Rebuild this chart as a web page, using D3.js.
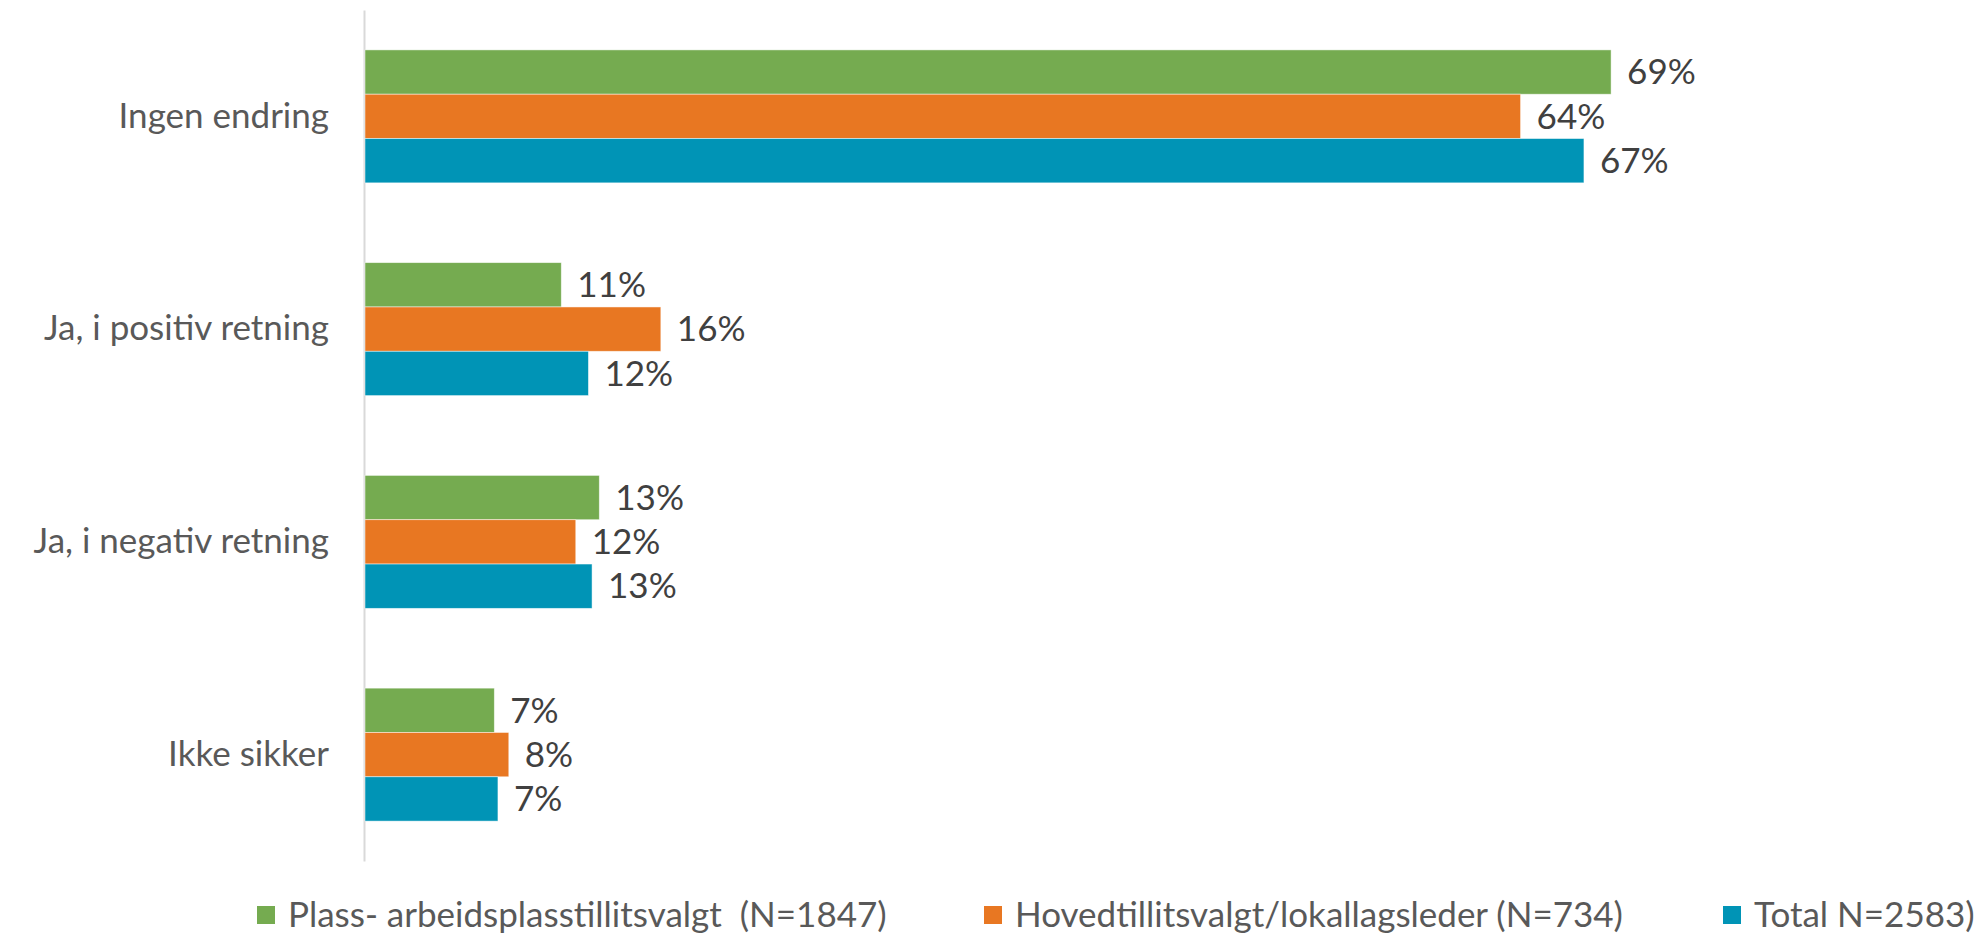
<!DOCTYPE html>
<html><head><meta charset="utf-8">
<script src="https://cdn.jsdelivr.net/npm/d3@7"></script>
<style>
html,body{margin:0;padding:0;background:#fff;}
svg text{font-family:Lato,"Noto Sans",sans-serif;}
</style></head>
<body>
<svg id="c" width="1974" height="937"></svg>
<script>
const categories = ["Ingen endring","Ja, i positiv retning","Ja, i negativ retning","Ikke sikker"];
const seriesNames = ["Plass- arbeidsplasstillitsvalgt  (N=1847)","Hovedtillitsvalgt/lokallagsleder (N=734)","Total N=2583)"];
const plassValues = [68.9, 10.9, 13.0, 7.2];
const hovedValues = [63.9, 16.4, 11.7, 8.0];
const totalValues = [67.4, 12.4, 12.6, 7.4];
const colors = ["#75AB50","#E87722","#0094B6"];

const seriesValues = [plassValues, hovedValues, totalValues];
const svg = d3.select("#c");
const fs = 35;

const x = d3.scaleLinear().domain([0, 80]).range([364, 364 + 80*18.1]);
const y0 = d3.scaleBand().domain(categories).range([10, 861]);
const y1 = d3.scaleBand().domain(d3.range(3)).range([0, y0.bandwidth()]).paddingOuter(0.9);

const axis = d3.axisLeft(y0).tickSize(0).tickSizeOuter(0).tickPadding(35);
const ag = svg.append("g").attr("transform", `translate(${x(0)},0)`).call(axis);
ag.select(".domain").attr("stroke", "#d9d9d9").attr("stroke-width", 2);
ag.selectAll(".tick text").attr("font-size", fs).attr("fill", "#595959")
  .style("font-family", "Lato, 'Noto Sans', sans-serif");

const groups = svg.append("g").selectAll("g").data(categories).join("g")
  .attr("transform", d => `translate(0,${y0(d)})`);

groups.each(function(cat, ci) {
  const g = d3.select(this);
  seriesValues.forEach((vals, si) => {
    g.append("rect")
      .attr("x", x(0) + 1)
      .attr("y", y1(si))
      .attr("width", x(vals[ci]) - x(0) - 1)
      .attr("height", y1.bandwidth())
      .attr("fill", colors[si])
      .attr("stroke", "#ffffff").attr("stroke-width", 0.8).attr("stroke-opacity", 0.6);
    g.append("text")
      .attr("x", x(vals[ci]) + 16)
      .attr("y", y1(si) + y1.bandwidth()/2)
      .attr("dy", "0.35em")
      .attr("font-size", fs)
      .attr("fill", "#404040")
      .text(Math.round(vals[ci]) + "%");
  });
});

const legendX = [257, 984, 1723];
const lg = svg.append("g").selectAll("g").data(seriesNames).join("g")
  .attr("transform", (d, i) => `translate(${legendX[i]},915)`);
lg.append("rect").attr("x", 0).attr("y", -9).attr("width", 18).attr("height", 18)
  .attr("fill", (d, i) => colors[i]);
lg.append("text").attr("x", 31).attr("dy", "0.35em").attr("font-size", fs)
  .attr("fill", "#595959").style("white-space", "pre").text(d => d);
</script>
</body></html>
